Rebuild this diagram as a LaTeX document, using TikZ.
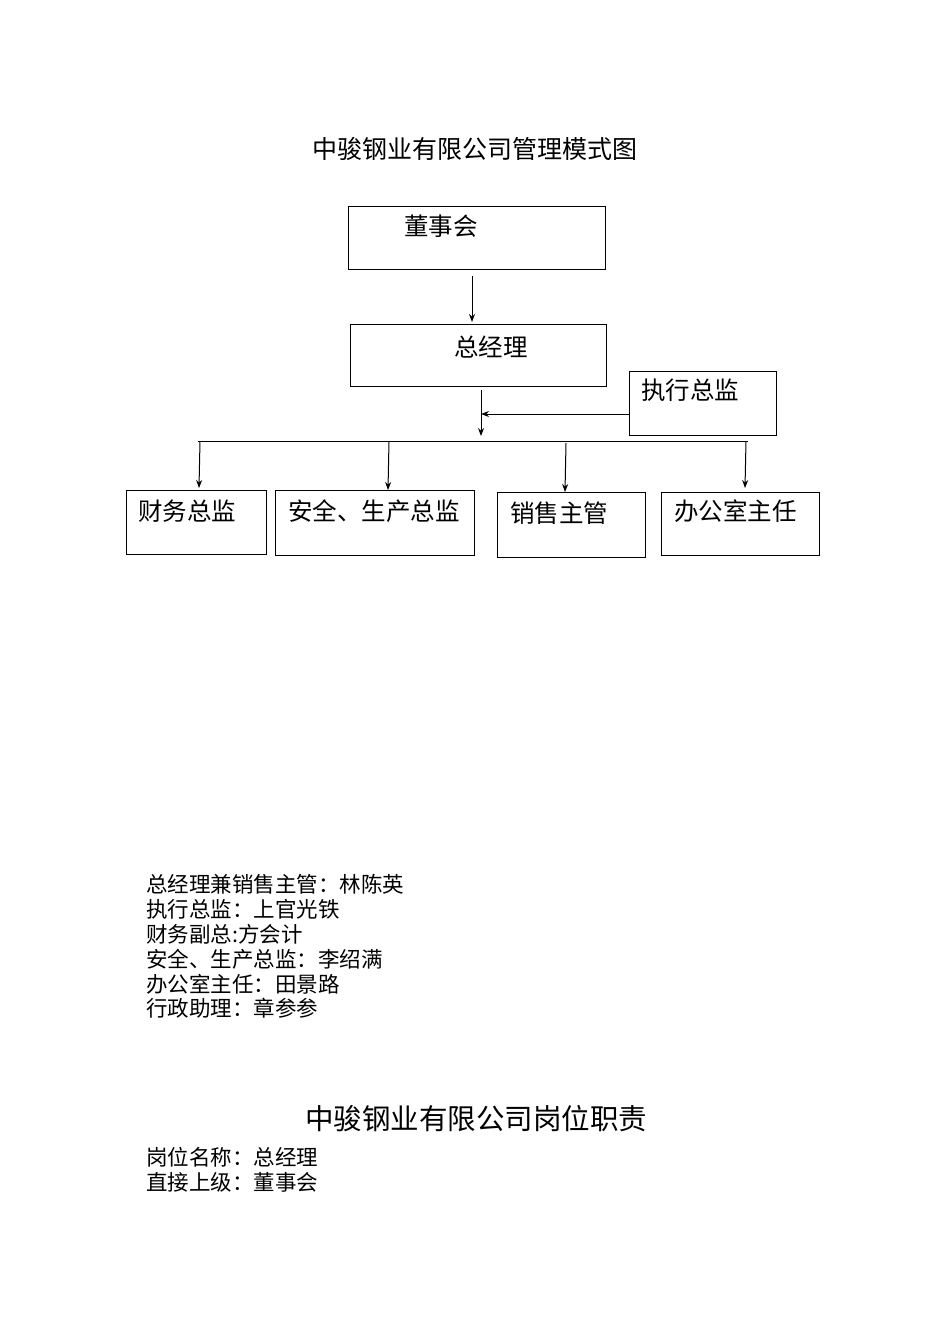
\documentclass[tikz,border=0pt]{standalone}
\usepackage{fontspec}
\setmainfont{Noto Sans CJK SC}
\usetikzlibrary{arrows.meta}
\tikzset{box/.style={draw,line width=1pt},
 conn/.style={line width=1pt},
 arr/.style={line width=1pt,-{Stealth[length=8pt,width=6pt]}},
 lbl/.style={font=\fontsize{24.5}{24.5}\selectfont,anchor=west,inner sep=0pt},
 txt/.style={font=\fontsize{21.5}{21.5}\selectfont,anchor=west,inner sep=0pt}}
\begin{document}
\begin{tikzpicture}[x=1pt,y=-1pt]
\useasboundingbox[fill=white] (0,0) rectangle (950,1344);
\node[font=\fontsize{25}{25}\selectfont] (t1) at (475,149) {中骏钢业有限公司管理模式图};
\draw[box] (348,206) rectangle (605,269); \node[lbl] (a) at (404,226) {董事会};
\draw[box] (350,324) rectangle (606,386); \node[lbl] (b) at (454,347) {总经理};
\draw[box] (629,371) rectangle (776,435); \node[lbl] (c) at (641,390) {执行总监};
\coordinate (a1) at (472,276); \coordinate (a2) at (472,322);
\draw[arr] (a1) -- (a2);
\coordinate (b1) at (481,390); \coordinate (b2) at (481,436);
\draw[arr] (b1) -- (b2);
\coordinate (c1) at (629,414); \coordinate (c2) at (481,414);
\draw[arr] (c1) -- (c2);
\coordinate (hl) at (198,441); \coordinate (hr) at (748,441);
\draw[conn] (hl) -- (hr);
\foreach \x/\y/\e in {200/441/488, 389/441/490, 566/443/492, 746/441/488}{
  \coordinate (s) at (\x,\y); \coordinate (e) at (\x-1,\e);
  \draw[arr] (s) -- (e);}
\draw[box] (126,490) rectangle (266,554); \node[lbl] (d1) at (138,511) {财务总监};
\draw[box] (275,490) rectangle (474,555); \node[lbl] (d2) at (288,511) {安全、生产总监};
\draw[box] (497,492) rectangle (645,557); \node[lbl] (d3) at (510,513) {销售主管};
\draw[box] (661,492) rectangle (819,555); \node[lbl] (d4) at (674,511) {办公室主任};
\node[txt] (l1) at (146,884) {总经理兼销售主管：林陈英};
\node[txt] (l2) at (146,909) {执行总监：上官光铁};
\node[txt] (l3) at (146,934) {财务副总:方会计};
\node[txt] (l4) at (146,959) {安全、生产总监：李绍满};
\node[txt] (l5) at (146,984) {办公室主任：田景路};
\node[txt] (l6) at (146,1008) {行政助理：章参参};
\node[font=\fontsize{28.5}{28.5}\selectfont] (t2) at (476,1119) {中骏钢业有限公司岗位职责};
\node[txt] (m1) at (146,1157) {岗位名称：总经理};
\node[txt] (m2) at (146,1182) {直接上级：董事会};
\end{tikzpicture}
\end{document}
